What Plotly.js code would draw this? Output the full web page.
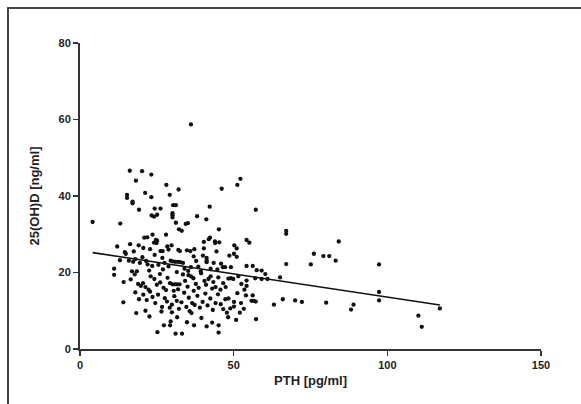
<!DOCTYPE html>
<html>
<head>
<meta charset="utf-8">
<script src="https://cdn.plot.ly/plotly-3.0.1.min.js"></script>
<style>
html,body{margin:0;padding:0;background:#fff;}
#wrap{position:relative;width:581px;height:404px;overflow:hidden;}
#chart{width:581px;height:404px;}
#frame{position:absolute;left:7px;top:7px;width:600px;height:420px;border-top:2px solid #444;border-left:2px solid #444;pointer-events:none;}
</style>
</head>
<body>
<div id="wrap"><div id="chart"></div><div id="frame"></div></div>
<script>
// PTH [pg/ml]
var pth = [
36.1,16.2,20.2,23.2,18.2,28.1,32.1,21.2,15.3,15.3,23.2,29.2,17.1,17.1,46.1,51.2,52.2,30.3,31.2,42.2,24.3,26.2,19.2,57.2,
4.1,13.1,23.3,24.1,25.1,30.1,30.1,30.1,38.1,34.4,35.1,31.2,41.1,32.2,33.1,45.2,67.1,67.1,
28.0,23.6,20.9,21.9,24.7,25.1,24.1,24.9,16.3,19.1,12.1,20.6,22.8,17.5,14.6,14.9,28.4,28.8,29.8,26.9,26.2,32.5,32.0,34.8,35.9,37.2,40.3,42.3,41.9,40.3,43.9,44.0,45.3,44.4,54.2,55.1,50.2,51.0,84.2,76.1,40.0,41.2,
11.1,11.1,15.9,17.3,18.0,19.5,20.3,21.5,22.0,23.5,24.3,25.5,26.8,27.5,28.8,29.5,30.2,31.0,31.8,32.6,33.5,34.0,35.2,36.1,37.0,37.8,38.5,39.3,41.2,41.2,42.5,43.5,44.7,45.9,46.5,47.2,49.1,48.6,50.1,51.0,54.2,56.2,57.5,59.1,60.3,67.1,75.1,79.2,81.1,83.2,97.3,22.5,18.5,16.9,27.0,31.5,13.0,
14.2,16.5,17.8,18.9,19.8,20.5,21.3,22.3,23.0,24.2,25.0,26.1,27.2,28.5,29.3,30.1,30.9,31.6,32.4,30.5,31.9,33.5,34.2,35.0,36.1,36.9,37.7,38.6,39.4,40.5,41.0,41.8,42.5,43.4,44.1,45.0,45.7,46.6,47.4,48.3,49.1,49.9,51.5,52.5,53.5,54.2,54.2,57.0,59.1,61.0,65.1,26.0,28.0,37.0,43.0,35.3,
14.1,18.0,19.2,20.6,21.7,22.8,23.6,24.5,25.4,26.7,27.6,28.3,29.2,29.9,30.7,31.5,32.2,33.0,33.9,34.6,35.4,36.5,37.3,38.2,39.0,39.9,40.8,41.5,42.4,43.2,44.1,44.9,45.8,46.6,47.3,48.3,48.9,50.1,50.1,51.2,52.4,53.3,54.0,55.8,56.5,56.2,57.2,63.1,66.0,70.0,72.2,80.1,88.2,89.0,97.3,97.3,117.1,110.1,111.2,
18.3,21.3,25.2,26.5,27.3,29.3,29.5,31.1,31.6,33.2,37.1,41.2,43.0,45.1,45.1,48.2,50.8,52.0,57.3,29.9,35.7,22.6,36.3,39.5,47.8,34.8
];
// 25(OH)D [ng/ml]
var vitd = [
58.7,46.6,46.5,45.6,44.0,42.9,41.7,40.8,40.3,39.5,39.7,40.3,38.5,38.1,41.9,42.9,44.5,37.6,37.6,37.2,36.7,36.7,36.4,36.4,
33.2,32.8,34.9,34.6,35.1,35.5,35.0,34.4,34.7,32.7,32.9,33.0,33.9,31.3,30.9,31.3,30.9,30.1,
29.9,29.9,29.1,29.2,28.5,28.3,27.8,27.7,27.4,27.1,26.8,26.4,26.1,25.5,25.3,24.9,26.8,26.0,27.1,25.6,25.6,25.6,25.9,25.8,25.6,26.1,26.3,29.1,28.7,28.0,28.1,27.7,27.9,25.5,28.5,27.8,27.1,26.3,28.1,24.9,24.4,23.8,
21.0,19.4,23.1,22.8,23.5,22.5,24.0,23.0,22.1,21.7,24.6,22.0,23.8,22.5,21.6,23.1,22.9,22.8,22.8,22.7,22.5,21.0,20.4,21.4,24.2,23.0,21.5,20.3,23.1,22.7,21.0,22.5,20.8,22.3,21.4,21.4,21.4,24.4,24.9,24.1,21.7,21.7,20.6,20.5,19.6,22.2,22.1,24.3,24.3,23.1,22.1,20.5,20.3,20.3,20.8,20.1,23.2,
17.5,18.2,19.5,17.0,16.5,17.2,16.2,15.5,19.0,18.3,16.8,17.4,16.0,18.6,17.2,16.9,16.9,16.9,16.9,15.2,15.6,19.5,17.8,16.3,19.0,18.5,17.0,16.0,19.8,17.8,16.8,18.3,19.0,17.5,16.2,18.7,15.5,17.2,16.2,18.4,18.5,18.3,19.0,17.0,15.5,17.9,16.5,18.5,18.3,18.3,18.7,19.6,15.4,15.2,15.8,19.3,
12.2,14.8,13.0,14.2,12.8,15.0,13.6,12.0,14.2,11.0,13.3,12.4,10.8,11.6,13.8,12.6,10.5,12.2,14.7,11.0,13.4,12.0,11.5,13.9,10.8,12.3,14.5,11.4,13.2,10.2,12.0,14.3,11.7,10.4,13.0,13.2,10.6,12.3,11.1,14.6,12.0,10.5,14.0,12.6,12.6,14.0,12.4,11.6,13.0,12.7,12.3,12.1,10.3,11.6,14.9,12.7,10.6,8.7,5.8,
9.4,10.0,4.4,9.8,6.2,6.2,7.2,4.0,8.3,4.0,6.2,5.9,6.9,6.2,4.3,8.3,7.6,9.5,7.8,9.6,9.9,8.5,9.4,8.1,9.5,7.0
];
// fitted regression line
var fitX = [4.1, 117.1];
var fitY = [25.2, 11.5];

var axisFont = {family:'Liberation Sans, Arial, sans-serif', size:11, color:'#222', weight:'bold'};
var titleFont = {family:'Liberation Sans, Arial, sans-serif', size:13, color:'#222', weight:'bold'};

var data = [
  {x:pth, y:vitd, type:'scatter', mode:'markers', marker:{color:'#111', size:4.3}, hoverinfo:'x+y', showlegend:false},
  {x:fitX, y:fitY, type:'scatter', mode:'lines', line:{color:'#111', width:1.6}, showlegend:false}
];

var layout = {
  width:581, height:404,
  margin:{l:80, r:40, t:43, b:55},
  paper_bgcolor:'#fff', plot_bgcolor:'#fff',
  xaxis:{range:[0,150], tickvals:[0,50,100,150], ticktext:['0','50','100','150'],
    showline:true, linecolor:'#333', linewidth:2, ticks:'outside', ticklen:5, tickwidth:1.5, tickcolor:'#333',
    showgrid:false, zeroline:false, tickfont:axisFont,
    title:{text:'PTH [pg/ml]', font:titleFont, standoff:6}},
  yaxis:{range:[0,80], tickvals:[0,20,40,60,80], ticktext:['0','20','40','60','80'],
    showline:true, linecolor:'#333', linewidth:2, ticks:'outside', ticklen:5, tickwidth:1.5, tickcolor:'#333',
    showgrid:false, zeroline:false, tickfont:axisFont,
    title:{text:'25(OH)D [ng/ml]', font:titleFont, standoff:16}}
};

Plotly.newPlot('chart', data, layout, {displayModeBar:false, staticPlot:true});
</script>
</body>
</html>
